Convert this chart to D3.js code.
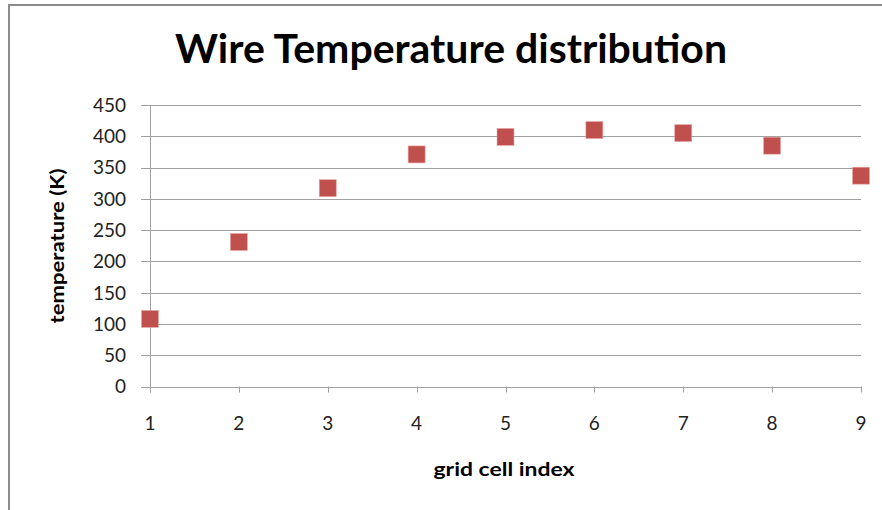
<!DOCTYPE html>
<html>
<head>
<meta charset="utf-8">
<script src="https://cdn.jsdelivr.net/npm/d3@7"></script>
<style>
  body { margin: 0; background: #fff; }
  text { font-family: Lato, "Open Sans", sans-serif; }
</style>
</head>
<body>
<div id="chart"></div>
<script>
  var width = 882;
  var height = 510;

  // data
  var cellIndex = [1, 2, 3, 4, 5, 6, 7, 8, 9];
  var temperature = [108, 231, 317, 371, 399, 410, 405, 385, 337];
  var yTicks = [0, 50, 100, 150, 200, 250, 300, 350, 400, 450];

  var svg = d3.select('#chart')
    .append('svg')
    .attr('width', width)
    .attr('height', height);

  // frame of the chart area (cut off at right and bottom)
  svg.append('path')
    .attr('d', 'M9,' + height + 'V5H' + width)
    .attr('fill', 'none')
    .attr('stroke', '#8c8c8c')
    .attr('stroke-width', 2);

  var x = d3.scaleLinear()
    .domain([1, 9])
    .range([150, 861]);

  var y = d3.scaleLinear()
    .domain([0, 450])
    .range([386.5, 105]);

  // gridlines
  svg.append('g')
    .selectAll('line')
    .data(yTicks)
    .enter()
    .append('line')
    .attr('x1', 141)
    .attr('x2', 861)
    .attr('y1', function(d) { return Math.round(y(d)) + 0.5; })
    .attr('y2', function(d) { return Math.round(y(d)) + 0.5; })
    .attr('stroke', '#a0a0a0')
    .attr('stroke-width', 1);

  // y axis line
  svg.append('line')
    .attr('x1', 150.5).attr('x2', 150.5)
    .attr('y1', y(450)).attr('y2', y(0) + 6)
    .attr('stroke', '#a0a0a0');

  // x tick marks
  svg.append('g')
    .selectAll('line')
    .data(cellIndex)
    .enter()
    .append('line')
    .attr('x1', function(d) { return Math.round(x(d)) + 0.5; })
    .attr('x2', function(d) { return Math.round(x(d)) + 0.5; })
    .attr('y1', y(0))
    .attr('y2', y(0) + 6)
    .attr('stroke', '#a0a0a0');

  // y tick labels
  svg.append('g')
    .selectAll('text')
    .data(yTicks)
    .enter()
    .append('text')
    .attr('x', 126)
    .attr('y', function(d) { return y(d); })
    .attr('dy', '0.36em')
    .attr('text-anchor', 'end')
    .attr('font-size', 19)
    .attr('fill', '#222')
    .text(function(d) { return d; });

  // x tick labels
  svg.append('g')
    .selectAll('text')
    .data(cellIndex)
    .enter()
    .append('text')
    .attr('x', function(d) { return x(d); })
    .attr('y', 430)
    .attr('text-anchor', 'middle')
    .attr('font-size', 19)
    .attr('fill', '#222')
    .text(function(d) { return d; });

  // points
  var size = 17;
  svg.append('g')
    .selectAll('rect')
    .data(cellIndex)
    .enter()
    .append('rect')
    .attr('x', function(d) { return x(d) - size / 2; })
    .attr('y', function(d, i) { return y(temperature[i]) - size / 2; })
    .attr('width', size)
    .attr('height', size)
    .attr('fill', '#c0504d')
    .attr('stroke', '#e8a9a7')
    .attr('stroke-width', 0.6);

  // title
  svg.append('text')
    .attr('x', 451)
    .attr('y', 63)
    .attr('text-anchor', 'middle')
    .attr('font-size', 41)
    .attr('font-weight', 'bold')
    .attr('fill', '#000')
    .attr('textLength', 552)
    .attr('lengthAdjust', 'spacingAndGlyphs')
    .text('Wire Temperature distribution');

  // axis titles
  svg.append('text')
    .attr('transform', 'translate(64,246) rotate(-90)')
    .attr('text-anchor', 'middle')
    .attr('font-size', 19)
    .attr('font-weight', 'bold')
    .attr('fill', '#000')
    .attr('textLength', 155)
    .attr('lengthAdjust', 'spacingAndGlyphs')
    .text('temperature (K)');

  svg.append('text')
    .attr('x', 504)
    .attr('y', 476)
    .attr('text-anchor', 'middle')
    .attr('font-size', 18)
    .attr('font-weight', 'bold')
    .attr('fill', '#000')
    .attr('textLength', 141)
    .attr('lengthAdjust', 'spacingAndGlyphs')
    .text('grid cell index');
</script>
</body>
</html>
